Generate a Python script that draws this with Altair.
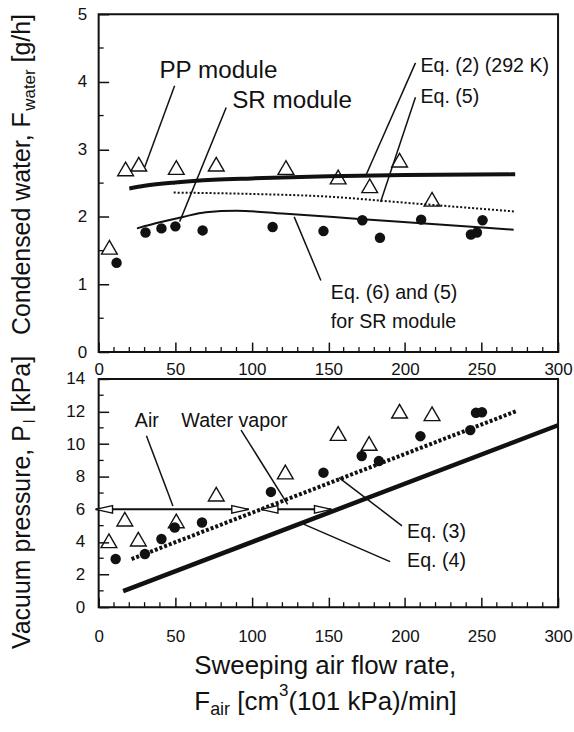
import altair as alt
import pandas as pd

FONT = "Liberation Sans"
INK = "#111111"

# ---------------- data ----------------
x_ticks = [0, 50, 100, 150, 200, 250, 300]
x_minor = [10, 20, 30, 40, 60, 70, 80, 90, 110, 120, 130, 140, 160, 170, 180, 190,
           210, 220, 230, 240, 260, 270, 280, 290]
top_y_ticks = [0, 1, 2, 3, 4, 5]
top_y_minor = [0.5, 1.5, 2.5, 3.5, 4.5]
bot_y_ticks = [0, 2, 4, 6, 8, 10, 12, 14]
bot_y_minor = [1, 3, 5, 7, 9, 11, 13]

# top panel: condensed water
pp_top_x = [7, 17.6, 26.2, 50.7, 76.8, 122.3, 156.4, 177, 196.5, 217.7]
pp_top_y = [1.55, 2.71, 2.78, 2.73, 2.78, 2.73, 2.59, 2.46, 2.84, 2.26]
sr_top_x = [11.7, 30.6, 41, 50.1, 67.9, 113.6, 146.8, 172.2, 183.7, 210.6, 243.1, 247, 250.7]
sr_top_y = [1.32, 1.77, 1.83, 1.86, 1.80, 1.85, 1.79, 1.95, 1.69, 1.96, 1.74, 1.77, 1.95]
eq2_x = [20, 30, 50, 75, 100, 150, 200, 272]
eq2_y = [2.42, 2.46, 2.51, 2.55, 2.57, 2.60, 2.62, 2.63]
eq5_x = [49, 100, 150, 200, 272]
eq5_y = [2.36, 2.34, 2.30, 2.21, 2.08]
eq6_x = [25, 40, 55, 70, 90, 120, 170, 220, 271]
eq6_y = [1.83, 1.92, 2.00, 2.07, 2.09, 2.05, 1.97, 1.89, 1.81]

# bottom panel: vacuum pressure
pp_bot_x = [6.7, 17.1, 25.9, 50.7, 76.8, 121.9, 156.4, 176.6, 196.5, 217.7]
pp_bot_y = [4.07, 5.40, 4.17, 5.29, 6.93, 8.29, 10.65, 10.04, 12.02, 11.86]
sr_bot_x = [11.1, 30.2, 41, 49.7, 67.5, 112.5, 146.8, 171.8, 183, 210.1, 242.7, 246.4, 250.3]
sr_bot_y = [2.95, 3.26, 4.18, 4.89, 5.19, 7.07, 8.25, 9.27, 8.96, 10.49, 10.86, 11.92, 11.96]
eq3_x = [21.5, 272.6]
eq3_y = [2.95, 12.02]
eq4_x = [16, 300]
eq4_y = [0.98, 11.16]

# annotation leader lines (x1, y1, x2, y2)
lead_top_x1 = [49.6, 83.3, 206.9, 206.9, 127.7]
lead_top_y1 = [3.94, 3.62, 4.28, 3.77, 2.00]
lead_top_x2 = [30.1, 52.9, 174.4, 184.1, 145.1]
lead_top_y2 = [2.74, 1.93, 2.61, 2.22, 1.06]
lead_bot_x1 = [31.2, 93, 156.9, 133.8]
lead_bot_y1 = [10.52, 10.86, 7.95, 5.09]
lead_bot_x2 = [48.5, 123.4, 198.1, 190.3]
lead_bot_y2 = [6.21, 6.31, 4.99, 2.79]

# annotation labels
big_labels = ["PP module", "SR module"]
big_x = [39.7, 87.2]
big_y = [4.16, 3.72]
top_labels = ["Eq. (2) (292 K)", "Eq. (5)", "Eq. (6) and (5)", "for SR module"]
top_lab_x = [210.1, 210.1, 151.6, 151.6]
top_lab_y = [4.23, 3.77, 0.87, 0.45]
bot_labels = ["Air", "Water vapor", "Eq. (3)", "Eq. (4)"]
bot_lab_x = [23.6, 54, 201.4, 201.4]
bot_lab_y = [11.41, 11.41, 4.58, 2.81]

# double arrows at 6 kPa (Air / Water vapor)
arrow_x1 = [-2, 106]
arrow_x2 = [98, 152]
arrow_level = 6

# ---------------- helpers ----------------
W, H1, H2 = 461, 339, 229

_AW = {' ': 278, '(': 333, ')': 333, ',': 278, '.': 278, '/': 278, '[': 278, ']': 278,
       'C': 722, 'E': 667, 'F': 611, 'K': 667, 'P': 667, 'R': 722, 'S': 667, 'V': 667, 'W': 944,
       'a': 556, 'c': 500, 'd': 556, 'e': 556, 'f': 278, 'g': 556, 'h': 556, 'i': 222,
       'k': 500, 'l': 222, 'm': 833, 'n': 556, 'o': 556, 'p': 556, 'r': 333, 's': 500,
       't': 278, 'u': 556, 'v': 500, 'w': 722}


def tw(s, size):
    return sum(_AW.get(c, 556) for c in s) / 1000.0 * size


xs = alt.Scale(domain=[0, 300], nice=False, zero=False)


def x_axis(pad):
    return alt.Axis(values=x_ticks, tickSize=10, offset=-10, domain=False, grid=False,
                    labelPadding=pad, labelFont=FONT, labelFontSize=17, labelColor=INK,
                    tickColor=INK, tickWidth=1.5, title=None, labelFlush=False,
                    labelOverlap=False)


def y_axis(vals, pad):
    return alt.Axis(values=vals, tickSize=10, offset=-10, domain=False, grid=False,
                    labelPadding=pad, labelFont=FONT, labelFontSize=17, labelColor=INK,
                    tickColor=INK, tickWidth=1.5, title=None, labelOverlap=False)


def rich_text(pieces, x0, y0, vertical):
    """pieces: list of (text, size, shift); shift is offset toward the baseline-below side."""
    layers = []
    pos = 0.0
    for txt, size, shift in pieces:
        lead = len(txt) - len(txt.lstrip(" "))
        pos += tw(" " * lead, size)
        txt = txt.lstrip(" ")
        df = pd.DataFrame({"t": [txt]})
        if vertical:
            enc = dict(x=alt.value(x0 + shift), y=alt.value(y0 - pos))
            mk = alt.Chart(df).mark_text(align="left", baseline="alphabetic", angle=270,
                                         font=FONT, fontSize=size, color=INK)
        else:
            enc = dict(x=alt.value(x0 + pos), y=alt.value(y0 + shift))
            mk = alt.Chart(df).mark_text(align="left", baseline="alphabetic",
                                         font=FONT, fontSize=size, color=INK)
        layers.append(mk.encode(text="t:N", **enc))
        pos += tw(txt, size)
    return layers


def panel(ys, xa, ya, ymin, H, pp_x, pp_y, sr_x, sr_y, lines, lx1, ly1, lx2, ly2):
    X = lambda f: alt.X(f, type="quantitative", scale=xs, axis=xa)
    Y = lambda f: alt.Y(f, type="quantitative", scale=ys, axis=ya)
    layers = []
    # minor ticks
    layers.append(alt.Chart(pd.DataFrame({"v": x_minor})).mark_rule(color=INK, strokeWidth=1.3)
                  .encode(x=X("v"), y=alt.value(H), y2=alt.value(H - 5)))
    layers.append(alt.Chart(pd.DataFrame({"v": ymin})).mark_rule(color=INK, strokeWidth=1.3)
                  .encode(y=Y("v"), x=alt.value(0), x2=alt.value(5)))
    # model lines
    for lx, ly, width, dash in lines:
        mk = dict(color=INK, strokeWidth=width, interpolate="monotone")
        if dash:
            mk["strokeDash"] = dash
        layers.append(alt.Chart(pd.DataFrame({"x": lx, "y": ly})).mark_line(**mk)
                      .encode(x=X("x"), y=Y("y")))
    # leader lines
    layers.append(alt.Chart(pd.DataFrame({"x": lx1, "y": ly1, "x2": lx2, "y2": ly2}))
                  .mark_rule(color=INK, strokeWidth=1.5)
                  .encode(x=X("x"), y=Y("y"), x2="x2", y2="y2"))
    # data points
    layers.append(alt.Chart(pd.DataFrame({"x": pp_x, "y": pp_y}))
                  .mark_point(shape="triangle-up", size=250, filled=False, stroke=INK,
                              strokeWidth=1.4, opacity=1)
                  .encode(x=X("x"), y=Y("y")))
    layers.append(alt.Chart(pd.DataFrame({"x": sr_x, "y": sr_y}))
                  .mark_circle(size=110, color=INK, opacity=1)
                  .encode(x=X("x"), y=Y("y")))
    return layers, X, Y


# ---------------- top panel ----------------
ys_top = alt.Scale(domain=[0, 5], nice=False, zero=False)
top_layers, Xt, Yt = panel(ys_top, x_axis(10), y_axis(top_y_ticks, 12), top_y_minor, H1,
                           pp_top_x, pp_top_y, sr_top_x, sr_top_y,
                           [(eq2_x, eq2_y, 4, None), (eq5_x, eq5_y, 2, [2, 2]),
                            (eq6_x, eq6_y, 2, None)],
                           lead_top_x1, lead_top_y1, lead_top_x2, lead_top_y2)
top_layers.append(alt.Chart(pd.DataFrame({"x": big_x, "y": big_y, "t": big_labels}))
                  .mark_text(align="left", baseline="middle", font=FONT, fontSize=24.3, color=INK)
                  .encode(x=Xt("x"), y=Yt("y"), text="t:N"))
top_layers.append(alt.Chart(pd.DataFrame({"x": top_lab_x, "y": top_lab_y, "t": top_labels}))
                  .mark_text(align="left", baseline="middle", font=FONT, fontSize=19.7, color=INK)
                  .encode(x=Xt("x"), y=Yt("y"), text="t:N"))
top_layers += rich_text([("Condensed water, F", 25, 0), ("water", 17, 5), (" [g/h]", 25, 0)],
                        -69, 322, True)
top = alt.layer(*top_layers).properties(width=W, height=H1)

# ---------------- bottom panel ----------------
ys_bot = alt.Scale(domain=[0, 14], nice=False, zero=False)
bot_layers, Xb, Yb = panel(ys_bot, x_axis(21), y_axis(bot_y_ticks, 14), bot_y_minor, H2,
                           pp_bot_x, pp_bot_y, sr_bot_x, sr_bot_y,
                           [(eq3_x, eq3_y, 4, [3, 2]), (eq4_x, eq4_y, 4.5, None)],
                           lead_bot_x1, lead_bot_y1, lead_bot_x2, lead_bot_y2)
arr = pd.DataFrame({"x": arrow_x1, "x2": arrow_x2, "y": [arrow_level] * len(arrow_x1)})
bot_layers.append(alt.Chart(arr).mark_rule(color=INK, strokeWidth=2)
                  .encode(x=Xb("x"), x2="x2", y=Yb("y")))
bot_layers.append(alt.Chart(arr).mark_point(shape="M0,0L2,-0.45L2,0.45Z", size=289, filled=True,
                                            fill="white", stroke=INK, strokeWidth=1.4, opacity=1)
                  .encode(x=Xb("x"), y=Yb("y")))
bot_layers.append(alt.Chart(arr).mark_point(shape="M0,0L-2,-0.45L-2,0.45Z", size=289, filled=True,
                                            fill="white", stroke=INK, strokeWidth=1.4, opacity=1)
                  .encode(x=Xb("x2"), y=Yb("y")))
bot_layers.append(alt.Chart(pd.DataFrame({"x": bot_lab_x, "y": bot_lab_y, "t": bot_labels}))
                  .mark_text(align="left", baseline="middle", font=FONT, fontSize=19.7, color=INK)
                  .encode(x=Xb("x"), y=Yb("y"), text="t:N"))
bot_layers += rich_text([("Vacuum pressure, P", 25, 0), ("l", 17, 5), (" [kPa]", 25, 0)],
                        -69, 271, True)
bot_layers += rich_text([("Sweeping air flow rate,", 26, 0)], 96, 296, False)
bot_layers += rich_text([("F", 26, 0), ("air", 18, 5), (" [cm", 26, 0), ("3", 17, -14),
                         ("(101 kPa)/min]", 26, 0)], 96, 332, False)
bottom = alt.layer(*bot_layers).properties(width=W, height=H2)

chart = (alt.vconcat(top, bottom, spacing=27, bounds="flush")
         .configure_view(stroke=INK, strokeWidth=2)
         .properties(padding={"left": 8, "top": 3, "right": 0, "bottom": 2},
                     background="white"))

chart.save("out.html", embed_options={"renderer": "svg", "actions": False})
